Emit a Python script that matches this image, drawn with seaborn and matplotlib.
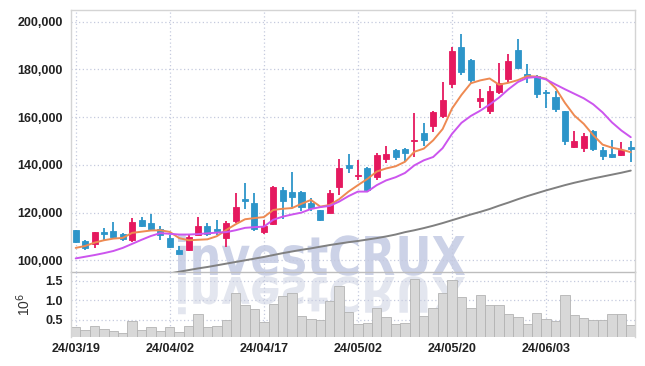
import numpy as np
import pandas as pd
import seaborn as sns
import matplotlib.pyplot as plt
from matplotlib.textpath import TextPath
from matplotlib.patches import PathPatch
from matplotlib.font_manager import FontProperties
from matplotlib.transforms import Affine2D

# trading days (KRX), 24/03/19 .. 24/06/17
dates = ["24/03/19", "24/03/20", "24/03/21", "24/03/22", "24/03/25", "24/03/26", "24/03/27", "24/03/28",
         "24/03/29", "24/04/01", "24/04/02", "24/04/03", "24/04/04", "24/04/05", "24/04/08", "24/04/09",
         "24/04/11", "24/04/12", "24/04/15", "24/04/16", "24/04/17", "24/04/18", "24/04/19", "24/04/22",
         "24/04/23", "24/04/24", "24/04/25", "24/04/26", "24/04/29", "24/04/30", "24/05/02", "24/05/03",
         "24/05/07", "24/05/08", "24/05/09", "24/05/10", "24/05/13", "24/05/14", "24/05/16", "24/05/17",
         "24/05/20", "24/05/21", "24/05/22", "24/05/23", "24/05/24", "24/05/27", "24/05/28", "24/05/29",
         "24/05/30", "24/05/31", "24/06/03", "24/06/04", "24/06/05", "24/06/07", "24/06/10", "24/06/11",
         "24/06/12", "24/06/13", "24/06/14", "24/06/17"]

# prices in thousands of won
open_ = [112.5, 108.0, 106.9, 111.7, 112.2, 111.2, 108.7, 117.0, 115.6, 113.3,
         109.4, 104.5, 104.3, 110.8, 114.2, 113.2, 109.4, 116.3, 125.6, 123.9,
         111.7, 115.3, 129.5, 128.8, 128.8, 123.9, 120.9, 120.0, 130.8, 140.1,
         135.4, 138.7, 135.0, 142.5, 146.1, 146.5, 149.9, 153.2, 156.1, 160.3,
         173.7, 189.2, 184.1, 166.8, 162.4, 170.7, 175.8, 188.0, 178.1, 177.2,
         170.7, 168.5, 162.4, 147.4, 147.0, 154.4, 146.3, 144.7, 144.0, 147.4]
high = [112.8, 108.5, 112.0, 113.6, 115.9, 111.6, 117.7, 118.0, 119.5, 114.2,
        110.4, 105.9, 110.4, 118.1, 115.6, 117.0, 116.6, 128.3, 132.2, 128.3,
        117.0, 131.0, 130.8, 137.1, 129.2, 126.0, 121.2, 129.5, 142.6, 144.7,
        142.2, 139.0, 144.9, 147.9, 146.5, 147.2, 161.7, 157.5, 162.4, 174.8,
        189.2, 194.9, 184.5, 171.6, 173.0, 182.7, 186.6, 192.8, 182.4, 177.6,
        171.5, 171.0, 162.6, 154.4, 153.2, 154.8, 147.6, 150.5, 149.5, 150.2]
low = [107.2, 104.5, 105.0, 108.7, 109.0, 108.3, 107.6, 114.0, 112.2, 108.4,
       105.0, 102.5, 104.0, 110.4, 110.1, 110.8, 105.5, 115.6, 121.5, 112.2,
       111.2, 115.0, 117.3, 122.5, 120.5, 120.5, 116.4, 119.7, 127.4, 136.6,
       133.6, 129.2, 133.6, 140.8, 141.9, 141.2, 143.3, 147.7, 153.6, 159.6,
       172.3, 177.6, 174.4, 163.8, 161.3, 169.6, 174.8, 180.2, 174.1, 167.9,
       163.8, 162.0, 148.4, 147.0, 145.4, 145.8, 141.9, 143.0, 143.6, 141.0]
close = [107.7, 105.3, 111.7, 111.1, 109.8, 109.0, 116.0, 114.2, 113.3, 110.5,
         105.5, 102.8, 109.9, 114.5, 111.1, 112.2, 115.6, 122.3, 125.0, 113.2,
         114.2, 130.8, 124.9, 126.4, 122.3, 122.1, 116.7, 128.3, 138.5, 138.5,
         135.9, 129.5, 144.0, 144.7, 143.3, 144.9, 150.5, 150.6, 162.0, 167.2,
         187.6, 179.0, 175.4, 168.0, 171.0, 174.4, 183.4, 180.6, 176.8, 169.9,
         170.0, 163.6, 149.9, 150.2, 152.3, 146.5, 143.7, 143.3, 146.1, 146.8]
# volume in millions
volume = [0.31, 0.24, 0.34, 0.26, 0.21, 0.16, 0.47, 0.24, 0.31, 0.21,
          0.31, 0.19, 0.34, 0.64, 0.31, 0.34, 0.49, 1.18, 0.87, 0.78,
          0.44, 0.90, 1.11, 1.20, 0.59, 0.52, 0.49, 0.98, 1.38, 0.69,
          0.39, 0.42, 0.80, 0.57, 0.40, 0.42, 1.56, 0.59, 0.80, 1.20,
          1.53, 1.08, 0.80, 1.13, 0.87, 0.87, 0.64, 0.57, 0.39, 0.67,
          0.52, 0.47, 1.13, 0.62, 0.54, 0.49, 0.49, 0.64, 0.64, 0.36]

# moving averages (thousands)
ma_short = [105.2, 106.0, 107.4, 108.4, 109.1, 109.4, 111.5, 112.0, 112.5, 112.6,
            111.9, 109.3, 108.4, 108.6, 108.8, 110.1, 112.7, 115.1, 117.2, 117.7,
            118.1, 121.1, 121.6, 121.9, 123.7, 125.3, 122.5, 123.2, 125.6, 128.8,
            131.5, 134.1, 137.2, 138.5, 139.4, 141.3, 145.5, 146.8, 150.3, 155.0,
            163.6, 169.3, 174.2, 175.4, 176.2, 173.6, 174.4, 175.5, 177.2, 177.0,
            176.1, 172.2, 166.0, 160.7, 157.2, 152.5, 148.5, 147.2, 146.4, 145.3]
ma_mid = [100.8, 101.5, 102.2, 103.0, 103.9, 105.2, 106.9, 108.6, 110.2, 111.4,
          111.1, 110.8, 110.8, 111.0, 111.3, 111.6, 111.8, 112.6, 113.6, 113.9,
          114.1, 117.0, 118.3, 119.2, 120.0, 121.5, 122.3, 122.8, 124.6, 126.9,
          128.8, 128.8, 131.5, 133.5, 134.8, 136.6, 139.8, 141.9, 143.3, 147.0,
          153.0, 157.6, 160.5, 162.7, 165.3, 168.2, 171.7, 174.7, 176.5, 176.8,
          175.8, 173.7, 171.7, 169.8, 167.9, 165.4, 162.0, 157.8, 154.4, 151.6]
ma_long = [np.nan] * 10 + [
    94.5, 95.2, 95.9, 96.6, 97.2, 97.9, 98.6, 99.3, 100.0, 100.7,
    101.4, 102.2, 103.0, 103.7, 104.4, 105.0, 105.7, 106.4, 107.0, 107.6,
    108.1, 108.7, 109.3, 110.0, 110.8, 111.8, 112.6, 113.5, 114.5, 115.6,
    116.8, 118.0, 119.2, 120.3, 121.5, 122.9, 124.2, 125.6, 126.9, 128.1,
    129.3, 130.4, 131.5, 132.5, 133.4, 134.3, 135.1, 135.9, 136.7, 137.6]

df = pd.DataFrame({"date": dates, "open": open_, "high": high, "low": low, "close": close,
                   "volume": volume, "ma5": ma_short, "ma20": ma_mid, "ma60": ma_long})
df["x"] = np.arange(len(df))
for c in ["open", "high", "low", "close", "ma5", "ma20", "ma60"]:
    df[c] = df[c] * 1000

RED = "#e5195f"
BLUE = "#2d95c9"

sns.set_theme(style="white")
plt.rcParams['font.family'] = ['Liberation Sans', 'DejaVu Sans']

fig = plt.figure(figsize=(6.45, 3.66), dpi=100)
ax = fig.add_axes([71/645, 1-272/366, 564/645, 262/366])
axv = fig.add_axes([71/645, 1-337/366, 564/645, 65/366], sharex=ax)
for a in (ax, axv):
    a.set_facecolor("none")

# watermark + reflection behind transparent axes
fp = FontProperties(family="DejaVu Sans", weight="bold")
tp = TextPath((0, 0), "investCRUX", size=100, prop=fp)
ext = tp.get_extents()
s = 287 / ext.width
px0, base = 178, 366 - 275
t_main = Affine2D().translate(-ext.x0, 0).scale(s, s * 1.2).translate(px0, base).scale(1/100) + fig.dpi_scale_trans
t_refl = Affine2D().translate(-ext.x0, 0).scale(s, -s * 1.1).translate(px0, base - 2).scale(1/100) + fig.dpi_scale_trans
fig.add_artist(PathPatch(tp, transform=t_main, color="#ccd2e7", lw=0, zorder=-1))
fig.add_artist(PathPatch(tp, transform=t_refl, color="#e3e6ef", lw=0, zorder=-1))

# candles
up = df["close"] >= df["open"]
cols = np.where(up, RED, BLUE)
ax.vlines(df["x"], df["low"], df["high"], colors=cols, lw=1.3, zorder=3)
ax.bar(df["x"], (df["close"] - df["open"]).abs(), bottom=np.minimum(df["open"], df["close"]),
       width=0.64, color=cols, edgecolor=cols, linewidth=0.6, zorder=4)

sns.lineplot(data=df, x="x", y="ma5", ax=ax, color="#ee8a52", lw=1.4, zorder=5)
sns.lineplot(data=df, x="x", y="ma20", ax=ax, color="#cc55ee", lw=1.4, zorder=5)
sns.lineplot(data=df.dropna(subset=["ma60"]), x="x", y="ma60", ax=ax, color="#808080", lw=1.4, zorder=5)

# volume
sns.barplot(x=df["x"], y=df["volume"], ax=axv, color="#d8d8d8", width=1.0,
            edgecolor="#b3b3b3", linewidth=0.6, saturation=1, zorder=2)

ax.set_xlim(-0.5, 59.45)
ax.set_ylim(95100, 204900)
axv.set_ylim(0.056, 1.73)

ax.set_yticks(range(100000, 200001, 20000))
ax.set_yticklabels([f"{v:,}" for v in range(100000, 200001, 20000)])
axv.set_yticks([0.5, 1.0, 1.5])
axv.set_yticklabels(["0.5", "1.0", "1.5"])
axv.set_xticks(df["x"][::10])
axv.set_xticklabels(df["date"][::10])

grid_kw = dict(linestyle=(0, (1, 2)), color="#c5cade", lw=0.9)
ax.grid(True, **grid_kw)
axv.grid(True, **grid_kw)
for a in (ax, axv):
    a.set_axisbelow(True)
    a.tick_params(length=0, labelsize=9, colors="#222222", pad=6)
    a.set_xlabel("")
    a.set_ylabel("")
    for sp in a.spines.values():
        sp.set_color("#d4d4d4")
        sp.set_linewidth(1.0)
axv.tick_params(axis="x", pad=4)
ax.tick_params(labelbottom=False)
ax.spines["bottom"].set_color("#bdbdbd")
axv.spines["top"].set_visible(False)
axv.spines["bottom"].set_visible(False)
axv.set_ylabel("10$^6$", fontsize=10, color="#333333", labelpad=9)

for lbl in ax.get_yticklabels() + axv.get_yticklabels() + axv.get_xticklabels():
    lbl.set_fontweight("bold")

fig.savefig("out.png", dpi=100)
